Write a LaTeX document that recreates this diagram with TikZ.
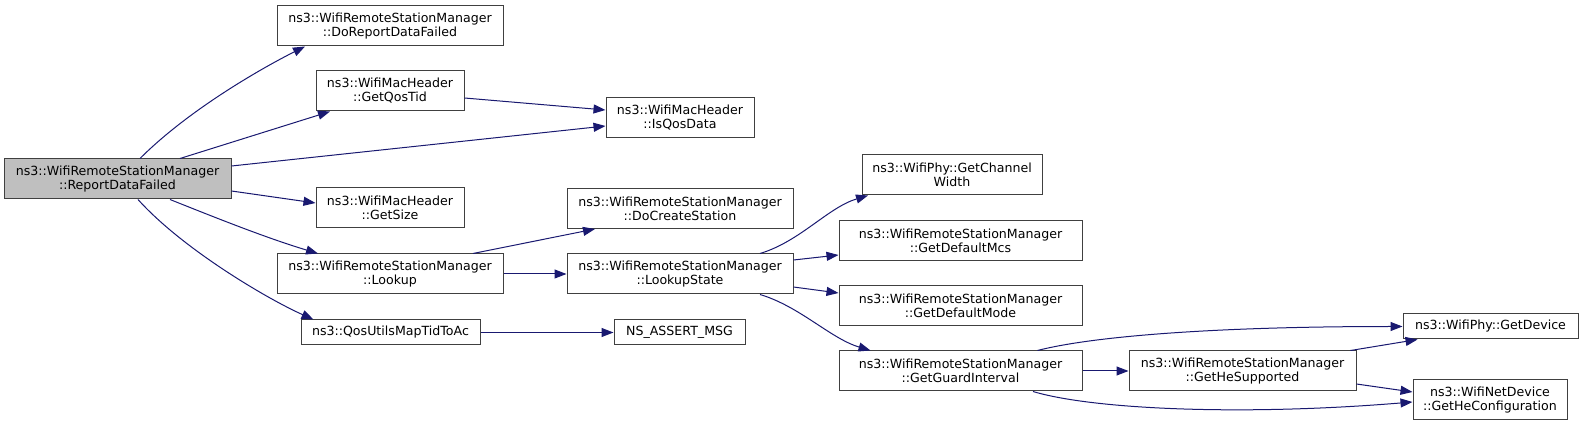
\documentclass[tikz,border=0pt]{standalone}
\usepackage{fontspec}
\setmainfont{DejaVu Sans}
\usepackage{xcolor}
\definecolor{EdgeBlue}{HTML}{191970}
\definecolor{BoxLine}{HTML}{404040}
\definecolor{RootGray}{HTML}{BFBFBF}
\usepackage{tikz}
\usetikzlibrary{arrows.meta,positioning}

\begin{document}
\begin{tikzpicture}[x=1pt, y=-1pt, every node/.style={font=\fontsize{12.6}{14}\selectfont}]
\tikzset{fnbox/.style={draw=BoxLine, line width=1pt, fill=white, inner sep=0pt, minimum height=40pt, align=center}}
\tikzset{call/.style={-{Triangle[length=12pt, width=9pt]}, draw=EdgeBlue, line width=1pt}}
\useasboundingbox (0,0) rectangle (1596,427);
\node[fnbox, fill=RootGray, minimum width=227pt] (rdf) at (117.5,179) {ns3::WifiRemoteStationManager\\::ReportDataFailed};
\node[fnbox, minimum width=226pt] (dorep) at (390,26) {ns3::WifiRemoteStationManager\\::DoReportDataFailed};
\node[fnbox, minimum width=148pt] (qostid) at (390,91) {ns3::WifiMacHeader\\::GetQosTid};
\node[fnbox, minimum width=148pt] (isqos) at (680,118) {ns3::WifiMacHeader\\::IsQosData};
\node[fnbox, minimum width=148pt] (getsize) at (390,208) {ns3::WifiMacHeader\\::GetSize};
\node[fnbox, minimum width=226pt] (lookup) at (390,274) {ns3::WifiRemoteStationManager\\::Lookup};
\node[fnbox, minimum width=179pt, minimum height=25pt] (qosutils) at (390.5,332.5) {ns3::QosUtilsMapTidToAc};
\node[fnbox, minimum width=226pt] (docreate) at (680,208.5) {ns3::WifiRemoteStationManager\\::DoCreateStation};
\node[fnbox, minimum width=226pt] (lstate) at (680,274) {ns3::WifiRemoteStationManager\\::LookupState};
\node[fnbox, minimum width=131pt, minimum height=25pt] (nsassert) at (679.5,332.5) {NS\_ASSERT\_MSG};
\node[fnbox, minimum width=180pt] (chwidth) at (952,175) {ns3::WifiPhy::GetChannel\\Width};
\node[fnbox, minimum width=243pt] (defmcs) at (960.5,240.5) {ns3::WifiRemoteStationManager\\::GetDefaultMcs};
\node[fnbox, minimum width=243pt] (defmode) at (960.5,306) {ns3::WifiRemoteStationManager\\::GetDefaultMode};
\node[fnbox, minimum width=243pt] (guard) at (960.5,371) {ns3::WifiRemoteStationManager\\::GetGuardInterval};
\node[fnbox, minimum width=175pt, minimum height=25pt] (getdev) at (1490.5,326.5) {ns3::WifiPhy::GetDevice};
\node[fnbox, minimum width=227pt] (hesupp) at (1242.5,371) {ns3::WifiRemoteStationManager\\::GetHeSupported};
\node[fnbox, minimum width=154pt] (heconf) at (1490,400) {ns3::WifiNetDevice\\::GetHeConfiguration};
\draw[call] ([xshift=22.5pt]rdf.north) .. controls +(50,-50) and +(-40,20) .. ([xshift=-85pt]dorep.south);
\draw[call] ([xshift=62.5pt]rdf.north) -- ([xshift=-60pt]qostid.south);
\draw[call] ([yshift=13pt]rdf.east) -- ([yshift=-8pt]isqos.west);
\draw[call] ([yshift=-7pt]qostid.east) -- ([yshift=8pt]isqos.west);
\draw[call] ([yshift=-12pt]rdf.east) -- ([yshift=5pt]getsize.west);
\draw[call] ([xshift=52.5pt]rdf.south) .. controls +(50,20) and +(-50,-15) .. ([xshift=-72pt]lookup.north);
\draw[call] ([xshift=20.5pt]rdf.south) .. controls +(45,50) and +(-45,-20) .. ([xshift=-77pt]qosutils.north);
\draw[call] ([xshift=83pt]lookup.north) -- ([xshift=-85pt]docreate.south);
\draw[call] (lookup) -- (lstate);
\draw[call] (qosutils) -- (nsassert);
\draw[call] ([xshift=80pt]lstate.north) .. controls +(40,-12) and +(-40,12) .. ([xshift=-84pt]chwidth.south);
\draw[call] ([yshift=14pt]lstate.east) -- ([yshift=-14.5pt]defmcs.west);
\draw[call] ([yshift=-13pt]lstate.east) -- ([yshift=13pt]defmode.west);
\draw[call] ([xshift=80pt]lstate.south) .. controls +(40,12) and +(-40,-12) .. ([xshift=-90pt]guard.north);
\draw[call] ([xshift=77pt]guard.north) .. controls +(50,-13) and +(-200,0) .. (getdev.west);
\draw[call] (guard) -- (hesupp);
\draw[call] ([xshift=72.5pt]guard.south) .. controls +(60,18) and +(-170,14) .. ([yshift=-2pt]heconf.west);
\draw[call] ([xshift=-6pt]hesupp.north east) -- ([xshift=-73pt]getdev.south);
\draw[call] ([yshift=-13pt]hesupp.east) -- ([yshift=8pt]heconf.west);
\end{tikzpicture}
\end{document}
